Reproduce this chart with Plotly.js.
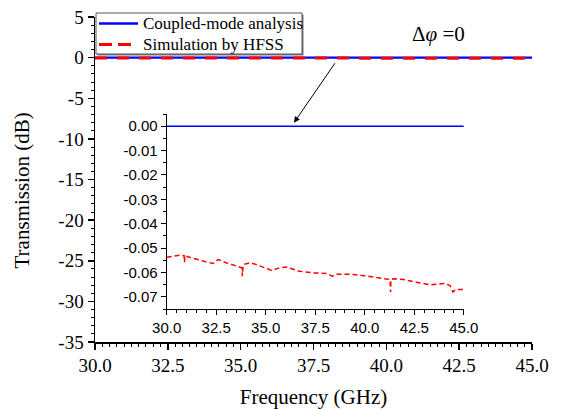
<!DOCTYPE html>
<html>
<head>
<meta charset="utf-8">
<script src="https://cdn.plot.ly/plotly-3.0.1.min.js"></script>
<style>html,body{margin:0;padding:0;background:#fff;}#chart{width:562px;height:409px;}</style>
</head>
<body>
<div id="chart"></div>
<script>
// Series names
const seriesNames = ['Coupled-mode analysis', 'Simulation by HFSS'];
// Coupled-mode analysis (flat 0 dB)
const cmFreq = [30, 45];
const cmVal = [0, 0];
// Simulation by HFSS (dB)
const simFreq = [30.0, 30.67, 30.88, 30.9, 30.92, 31.5, 32.0, 32.35, 32.6, 33.0, 33.5, 33.8, 33.82, 33.85, 33.9, 34.2, 34.5, 35.3, 35.7, 36.05, 36.7, 37.4, 38.1, 38.35, 38.6, 39.4, 40.1, 40.9, 41.28, 41.3, 41.32, 41.45, 41.95, 42.6, 43.3, 44.0, 44.3, 44.45, 44.6, 45.0];
const simVal = [-0.0538, -0.0529, -0.0531, -0.0558, -0.0532, -0.0547, -0.0557, -0.0563, -0.0547, -0.0560, -0.0572, -0.0581, -0.0615, -0.0580, -0.0567, -0.0560, -0.0567, -0.0592, -0.0581, -0.0578, -0.0595, -0.0602, -0.0604, -0.0615, -0.0607, -0.0608, -0.0615, -0.0626, -0.0629, -0.0680, -0.0629, -0.0626, -0.0629, -0.0640, -0.0651, -0.0645, -0.0653, -0.0680, -0.0670, -0.0670];

const mainYTicks = [5, 0, -5, -10, -15, -20, -25, -30, -35];
const mainYText = ['5', '0', '-5', '-10', '-15', '-20', '-25', '-30', '-35'];
const mainXTicks = [30, 32.5, 35, 37.5, 40, 42.5, 45];
const mainXText = ['30.0', '32.5', '35.0', '37.5', '40.0', '42.5', '45.0'];
const insetYTicks = [0, -0.01, -0.02, -0.03, -0.04, -0.05, -0.06, -0.07];
const insetYText = ['0.00', '-0.01', '-0.02', '-0.03', '-0.04', '-0.05', '-0.06', '-0.07'];

const serif = 'Liberation Serif, Times New Roman, serif';
const sans = 'Liberation Sans, Arial, sans-serif';

const W = 562, H = 409, M = {l: 95, r: 30, t: 17, b: 67};
const PW = W - M.l - M.r, PH = H - M.t - M.b;
const px = v => (v - M.l) / PW;          // pixel x -> paper
const py = v => (H - M.b - v) / PH;      // pixel y -> paper

const blue = '#0000ff', red = '#ff0000';

const traces = [
  {x: cmFreq, y: cmVal, type: 'scatter', mode: 'lines', name: seriesNames[0],
   line: {color: blue, width: 2.2}, xaxis: 'x', yaxis: 'y'},
  {x: simFreq, y: simVal, type: 'scatter', mode: 'lines', name: seriesNames[1],
   line: {color: red, width: 3, dash: '12px,10px'}, xaxis: 'x', yaxis: 'y'},
  {x: cmFreq, y: cmVal, type: 'scatter', mode: 'lines', name: seriesNames[0],
   line: {color: blue, width: 1.5}, xaxis: 'x2', yaxis: 'y2'},
  {x: simFreq, y: simVal, type: 'scatter', mode: 'lines', name: seriesNames[1],
   line: {color: red, width: 1.5, dash: '5px,3px'}, xaxis: 'x2', yaxis: 'y2'}
];

const layout = {
  width: W, height: H,
  margin: M,
  paper_bgcolor: '#ffffff', plot_bgcolor: 'rgba(0,0,0,0)',
  showlegend: false,
  xaxis: {domain: [0, 1], range: [30, 45], showline: true, linecolor: '#000', linewidth: 1.5,
    showgrid: false, zeroline: false, ticks: 'outside', ticklen: 6, tickwidth: 1.5, tickcolor: '#000',
    tickmode: 'array', tickvals: mainXTicks, ticktext: mainXText,
    minor: {dtick: 0.25, ticks: 'outside', ticklen: 3, tickwidth: 1, tickcolor: '#000', showgrid: false},
    tickfont: {family: serif, size: 19, color: '#000'},
    title: {text: 'Frequency (GHz)', font: {family: serif, size: 21, color: '#000'}, standoff: 18}},
  yaxis: {domain: [0, 1], range: [-35, 5], showline: true, linecolor: '#000', linewidth: 1.5,
    showgrid: false, zeroline: false, ticks: 'outside', ticklen: 6, tickwidth: 1.5, tickcolor: '#000',
    tickmode: 'array', tickvals: mainYTicks, ticktext: mainYText,
    minor: {dtick: 1, ticks: 'outside', ticklen: 3, tickwidth: 1, tickcolor: '#000', showgrid: false},
    tickfont: {family: serif, size: 19, color: '#000'}},
  xaxis2: {domain: [0.164, 0.844], anchor: 'y2', range: [30, 45], showline: true, linecolor: '#000', linewidth: 1,
    showgrid: false, zeroline: false, ticks: 'outside', ticklen: 5, tickcolor: '#000',
    tickmode: 'array', tickvals: mainXTicks, ticktext: mainXText,
    minor: {dtick: 0.5, ticks: 'outside', ticklen: 3, tickcolor: '#000', showgrid: false},
    tickfont: {family: sans, size: 15, color: '#000'}},
  yaxis2: {domain: [0.1015, 0.7015], anchor: 'x2', range: [-0.075, 0.005], showline: true, linecolor: '#000', linewidth: 1,
    showgrid: false, zeroline: false, ticks: 'outside', ticklen: 5, tickcolor: '#000',
    tickmode: 'array', tickvals: insetYTicks, ticktext: insetYText,
    minor: {dtick: 0.005, ticks: 'outside', ticklen: 3, tickcolor: '#000', showgrid: false},
    tickfont: {family: sans, size: 15, color: '#000'}},
  shapes: [
    // legend box shadow and frame
    {type: 'rect', xref: 'paper', yref: 'paper', x0: px(97.5), x1: px(303.5), y0: py(55.5), y1: py(14.5),
     fillcolor: '#777777', line: {width: 0}},
    {type: 'rect', xref: 'paper', yref: 'paper', x0: px(96), x1: px(302), y0: py(54), y1: py(13),
     fillcolor: '#ffffff', line: {color: '#555555', width: 1}},
    // legend samples
    {type: 'line', xref: 'paper', yref: 'paper', x0: px(99), x1: px(138), y0: py(23.5), y1: py(23.5),
     line: {color: blue, width: 2.5}},
    {type: 'line', xref: 'paper', yref: 'paper', x0: px(99), x1: px(134), y0: py(44.5), y1: py(44.5),
     line: {color: red, width: 3, dash: '13px,6px'}}
  ],
  annotations: [
    {xref: 'paper', yref: 'paper', x: px(141), y: py(23.5), xanchor: 'left', yanchor: 'middle',
     text: seriesNames[0], showarrow: false, font: {family: serif, size: 17, color: '#000'}},
    {xref: 'paper', yref: 'paper', x: px(141), y: py(44.5), xanchor: 'left', yanchor: 'middle',
     text: seriesNames[1], showarrow: false, font: {family: serif, size: 17, color: '#000'}},
    {xref: 'paper', yref: 'paper', x: px(21.5), y: py(191), xanchor: 'center', yanchor: 'middle', textangle: -90,
     text: 'Transmission (dB)', showarrow: false, font: {family: serif, size: 21, color: '#000'}},
    {xref: 'paper', yref: 'paper', x: px(438), y: py(34), xanchor: 'center', yanchor: 'middle',
     text: 'Δ<i>φ</i> =0', showarrow: false, font: {family: serif, size: 21, color: '#000'}},
    {xref: 'paper', yref: 'paper', x: px(294), y: py(122.7), text: '', showarrow: true,
     ax: 42, ay: -61, arrowhead: 2, arrowsize: 1.2, arrowwidth: 1, arrowcolor: '#000'}
  ]
};

Plotly.newPlot('chart', traces, layout, {staticPlot: true, displayModeBar: false});
</script>
</body>
</html>
